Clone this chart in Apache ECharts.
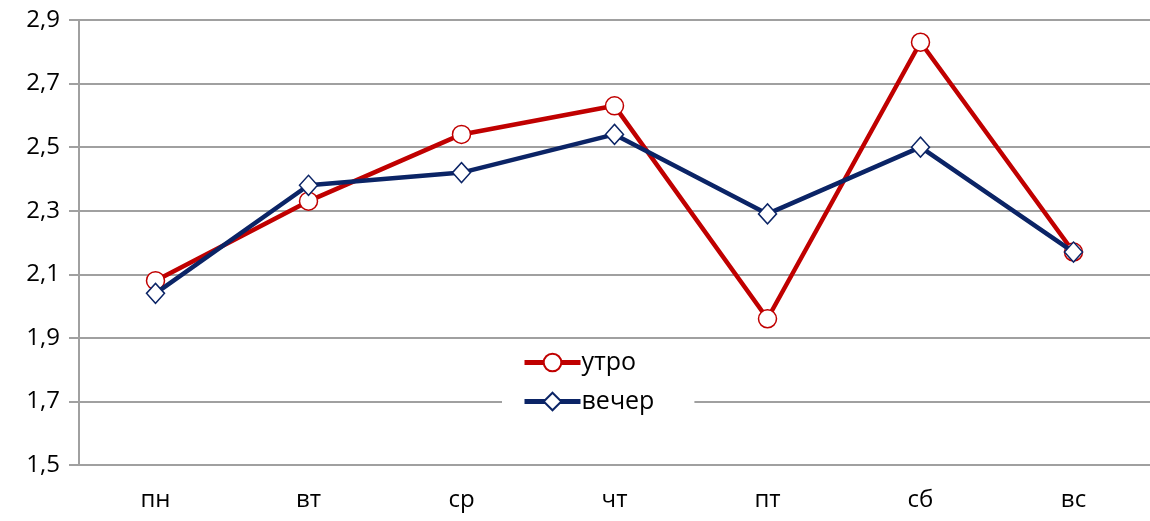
<!DOCTYPE html>
<html lang="ru">
<head>
  <meta charset="UTF-8">
  <title>утро / вечер</title>
  <script src="https://cdn.jsdelivr.net/npm/echarts@6/dist/echarts.min.js"></script>
  <style>body{margin:0;background:#fff}</style>
</head>
<body>
  <div id="main" style="width:1150px;height:521px"></div>
  <script>
  const days = ['пн', 'вт', 'ср', 'чт', 'пт', 'сб', 'вс'];
  const morning = [2.08, 2.33, 2.54, 2.63, 1.96, 2.83, 2.17];
  const evening = [2.04, 2.38, 2.42, 2.54, 2.29, 2.50, 2.17];

  const chart = echarts.init(document.getElementById('main'));
  const font = '"Open Sans", "Noto Sans", sans-serif';
  chart.setOption({
    animation: false,
    textStyle: {fontFamily: font},
    grid: {left: 79, right: -6, top: 20, bottom: 56},
    legend: {
      data: ['утро', 'вечер'],
      orient: 'vertical',
      left: 502, top: 344,
      itemWidth: 56, itemHeight: 22, itemGap: 14,
      backgroundColor: '#fff',
      padding: [6, 40, 6, 20],
      lineStyle: {width: 5},
      textStyle: {fontSize: 25, color: '#000', fontFamily: font, padding: [0, 0, 0, -4]}
    },
    xAxis: {
      type: 'category', data: days, boundaryGap: true,
      axisLine: {lineStyle: {color: '#a0a0a0', width: 2}},
      axisTick: {length: 9, lineStyle: {color: '#a0a0a0', width: 2}},
      axisLabel: {fontSize: 24, color: '#000', margin: 23}
    },
    yAxis: {
      type: 'value', min: 1.5, max: 2.9, interval: 0.2,
      axisLine: {show: true, lineStyle: {color: '#a0a0a0', width: 2}},
      axisTick: {show: true, length: 10, lineStyle: {color: '#a0a0a0', width: 2}},
      splitLine: {lineStyle: {color: '#a0a0a0', width: 2}},
      axisLabel: {
        fontSize: 24, color: '#000', margin: 19,
        formatter: v => v.toFixed(1).replace('.', ',')
      }
    },
    series: [
      {
        name: 'утро', type: 'line', data: morning,
        symbol: 'circle', symbolSize: 18,
        lineStyle: {color: '#c00000', width: 4.5},
        itemStyle: {color: '#fff', borderColor: '#c00000', borderWidth: 1.5},
        z: 2
      },
      {
        name: 'вечер', type: 'line', data: evening,
        symbol: 'diamond', symbolSize: [18, 20],
        lineStyle: {color: '#0b2466', width: 4.5},
        itemStyle: {color: '#fff', borderColor: '#0b2466', borderWidth: 1.5},
        z: 3
      }
    ]
  });
  </script>
</body>
</html>
